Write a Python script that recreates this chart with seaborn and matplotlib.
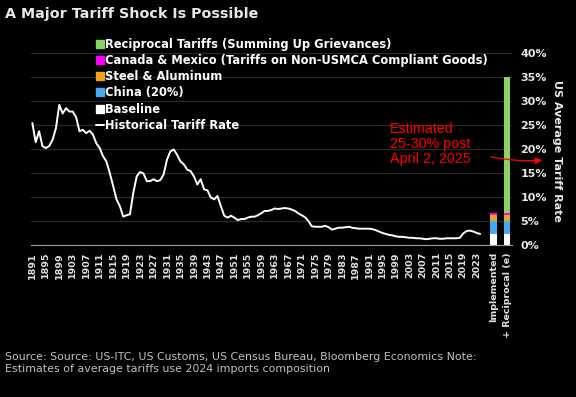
import numpy as np
import pandas as pd
import matplotlib
matplotlib.use("Agg")
import matplotlib.pyplot as plt
import seaborn as sns
from matplotlib.patches import Patch
from matplotlib.lines import Line2D

# historical average US tariff rate (%)
years = list(range(1891, 2025))
hist_rate = [
    25.4, 21.4, 23.7, 20.6, 20.2, 20.6, 21.9, 24.3, 29.2, 27.4,
    28.5, 27.8, 27.8, 26.6, 23.7, 24.0, 23.3, 23.8, 23.0, 21.2,
    20.2, 18.5, 17.4, 15.0, 12.3, 9.5, 8.1, 5.9, 6.2, 6.4,
    10.9, 14.3, 15.2, 14.9, 13.3, 13.3, 13.7, 13.3, 13.5, 14.7,
    17.8, 19.5, 19.9, 18.8, 17.4, 16.8, 15.7, 15.4, 14.3, 12.6,
    13.7, 11.6, 11.4, 9.9, 9.5, 10.2, 8.1, 6.1, 5.7, 6.1,
    5.7, 5.2, 5.4, 5.4, 5.7, 5.9, 5.9, 6.2, 6.6, 7.1,
    7.1, 7.3, 7.6, 7.5, 7.6, 7.7, 7.6, 7.4, 7.1, 6.6,
    6.2, 5.8, 5.0, 3.9, 3.8, 3.8, 3.8, 4.0, 3.7, 3.2,
    3.4, 3.6, 3.6, 3.7, 3.8, 3.6, 3.5, 3.4, 3.4, 3.4,
    3.4, 3.3, 3.1, 2.8, 2.5, 2.3, 2.1, 2.0, 1.8, 1.7,
    1.7, 1.6, 1.5, 1.5, 1.4, 1.4, 1.3, 1.2, 1.3, 1.4,
    1.4, 1.3, 1.3, 1.4, 1.4, 1.4, 1.4, 1.5, 2.4, 2.9,
    3.0, 2.8, 2.5, 2.3,
]

# stacked estimate bars
bar_labels = ["Implemented", "+ Reciprocal (e)"]
baseline = [2.35, 2.35]
china = [2.65, 2.65]
steel_alu = [1.2, 1.2]
can_mex = [0.5, 0.5]
reciprocal = [0.0, 28.2]

tick_years = list(range(1891, 2024, 4))

df = pd.DataFrame({"Year": years, "Rate": hist_rate})

sns.set_style("dark")
plt.rcParams["font.family"] = ["DejaVu Sans"]

fig = plt.figure(figsize=(5.76, 3.97), dpi=100, facecolor="black")
ax = fig.add_axes([0.0538, 0.3829, 0.8352, 0.4836], facecolor="black")

# bars sit a few slots after the last year
bar_x = [years[-1] + 4, years[-1] + 8]
layers = [
    ("Baseline", baseline, "#ffffff"),
    ("China (20%)", china, "#45aaf2"),
    ("Steel & Aluminum", steel_alu, "#f7a21b"),
    ("Canada & Mexico (Tariffs on Non-USMCA Compliant Goods)", can_mex, "#ff00ff"),
    ("Reciprocal Tariffs (Summing Up Grievances)", reciprocal, "#8dd35f"),
]
bottom = np.zeros(len(bar_x))
for name, vals, col in layers:
    ax.bar(bar_x, vals, bottom=bottom, width=2.0, color=col, linewidth=0, zorder=3)
    bottom += np.array(vals)

sns.lineplot(data=df, x="Year", y="Rate", color="white", lw=1.4, ax=ax, zorder=4)

ax.set_xlim(1890.6, 2033.5)
ax.set_ylim(0, 40)
ax.set_xlabel("")
ax.set_ylabel("")

# y axis on the right
ax.yaxis.tick_right()
ax.set_yticks(range(0, 41, 5))
ax.set_yticklabels([f"{v}%" for v in range(0, 41, 5)], color="#e6e6e6",
                   fontsize=8, fontweight="bold")
ax.tick_params(axis="y", length=0, pad=6)
ax.grid(axis="y", color="#2b2b2b", lw=0.9)
ax.grid(axis="x", visible=False)
for s in ["top", "left", "right"]:
    ax.spines[s].set_visible(False)
ax.spines["bottom"].set_color("#9a9a9a")
ax.spines["bottom"].set_linewidth(0.8)

ax.set_xticks(tick_years + bar_x)
ax.set_xticklabels([str(y) for y in tick_years] + bar_labels, rotation=90,
                   color="#e0e0e0", fontsize=6.8, fontweight="bold", va="top")
ax.set_xticks(years, minor=True)
ax.tick_params(axis="x", which="both", length=3, color="#9a9a9a", width=0.7,
               direction="out", pad=2)

fig.text(0.967, 0.62, "US Average Tariff Rate", rotation=270, color="#e6e6e6",
         fontsize=8, fontweight="bold", ha="center", va="center")

# legend
handles = [Patch(color=c) for _, _, c in layers[::-1]]
handles.append(Line2D([0], [0], color="white", lw=1.4))
labels = [n for n, _, _ in layers[::-1]] + ["Historical Tariff Rate"]
leg = fig.legend(handles, labels, loc="upper left", bbox_to_anchor=(0.166, 0.905),
                 frameon=False, fontsize=8.3, handlelength=0.7, handleheight=0.7,
                 handletextpad=0.15, labelspacing=0.28, borderpad=0, borderaxespad=0)
for t in leg.get_texts():
    t.set_color("white")
    t.set_fontweight("bold")

# annotation
fig.text(390 / 576, 1 - 122 / 397, "Estimated\n25-30% post\nApril 2, 2025",
         color="#ff0000", fontsize=10.3, family="Liberation Sans", va="top",
         ha="left", linespacing=1.1)
ax.annotate("", xy=(545 / 576, 1 - 160 / 397), xycoords="figure fraction",
            xytext=(488 / 576, 1 - 156 / 397), textcoords="figure fraction",
            arrowprops=dict(arrowstyle="-|>", color="#ff0000", lw=0.9,
                            connectionstyle="arc3,rad=0.08", mutation_scale=10),
            annotation_clip=False)

fig.text(0.009, 1 - 14 / 397, "A Major Tariff Shock Is Possible", color="#e8e8e8",
         fontsize=10.3, fontweight="bold", va="center", ha="left")
fig.text(0.009, 1 - 363 / 397,
         "Source: Source: US-ITC, US Customs, US Census Bureau, Bloomberg Economics Note:\n"
         "Estimates of average tariffs use 2024 imports composition",
         color="#c0c0c0", fontsize=7.9, va="center", ha="left", linespacing=1.35)

fig.savefig("out.png", dpi=100, facecolor="black")
